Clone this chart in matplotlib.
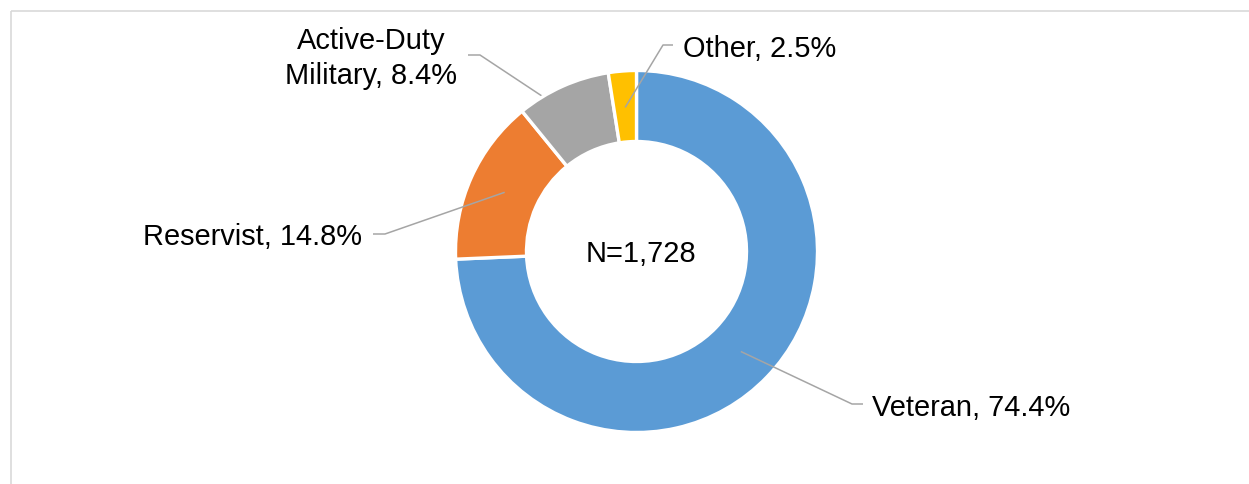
import numpy as np
import matplotlib
matplotlib.use("Agg")
import matplotlib.pyplot as plt
from matplotlib.patches import Rectangle


# Data
labels = ["Veteran", "Reservist", "Active-Duty\nMilitary", "Other"]
shares = [74.4, 14.8, 8.4, 2.5]
colors = ["#5B9BD5", "#ED7D31", "#A5A5A5", "#FFC000"]
total_n = "N=1,728"

W, H = 1249, 485
plt.rcParams["font.family"] = ["Liberation Sans", "DejaVu Sans"]
FS = 29 * 72 / 100  # 29 px text

fig = plt.figure(figsize=(W / 100, H / 100), dpi=100)
ax = fig.add_axes([0, 0, 1, 1])
ax.set_xlim(0, W)
ax.set_ylim(H, 0)  # pixel-like coordinates, y goes down
ax.set_aspect("equal")
ax.axis("off")

# light chart border, running off the right and bottom edges
ax.add_patch(Rectangle((11.5, 12), 1300, 600, fill=False,
                       edgecolor="#D9D9D9", linewidth=1.2, zorder=0))

cx, cy = 636.5, 252.5
r_out, r_in = 181, 110
# y axis is flipped, so startangle -90 is the top and counterclock runs clockwise on screen
wedges, _ = ax.pie(shares, colors=colors, startangle=-90, counterclock=True,
                   center=(cx, cy), radius=r_out, frame=True,
                   wedgeprops=dict(width=r_out - r_in, edgecolor="white",
                                   linewidth=2.4, zorder=2))
ax.set_xlim(0, W)
ax.set_ylim(H, 0)
ax.axis("off")

r_mid = (r_out + r_in) / 2 - 1


def mid_point(w):
    ang = np.deg2rad((w.theta1 + w.theta2) / 2)
    return cx + r_mid * np.cos(ang), cy + r_mid * np.sin(ang)


# label layout: (elbow x, elbow y, end x, text x, text baseline, ha, zorder of leader)
layout = [
    (852, 405, 863, 872, 416, "left", 3),
    (385, 235, 373, 362, 245, "right", 3),
    (480, 56, 468, None, None, "center", 1),
    (663, 46, 673, 683, 57, "left", 3),
]

line_kw = dict(color="#A5A5A5", linewidth=1.1, solid_capstyle="butt")
for w, lab, val, (ex, ey, endx, tx, ty, ha, z) in zip(wedges, labels, shares, layout):
    sx, sy = mid_point(w)
    ax.plot([sx, ex, endx], [sy, ey, ey], zorder=z, **line_kw)
    if "\n" in lab:
        first, second = lab.split("\n")
        ax.text(371, 49, first, fontsize=FS, ha="center", va="baseline")
        ax.text(371, 84, f"{second}, {val}%", fontsize=FS, ha="center", va="baseline")
    else:
        ax.text(tx, ty, f"{lab}, {val}%", fontsize=FS, ha=ha, va="baseline")

ax.text(641, 262, total_n, fontsize=FS, ha="center", va="baseline")

fig.savefig("out.png", dpi=100)
